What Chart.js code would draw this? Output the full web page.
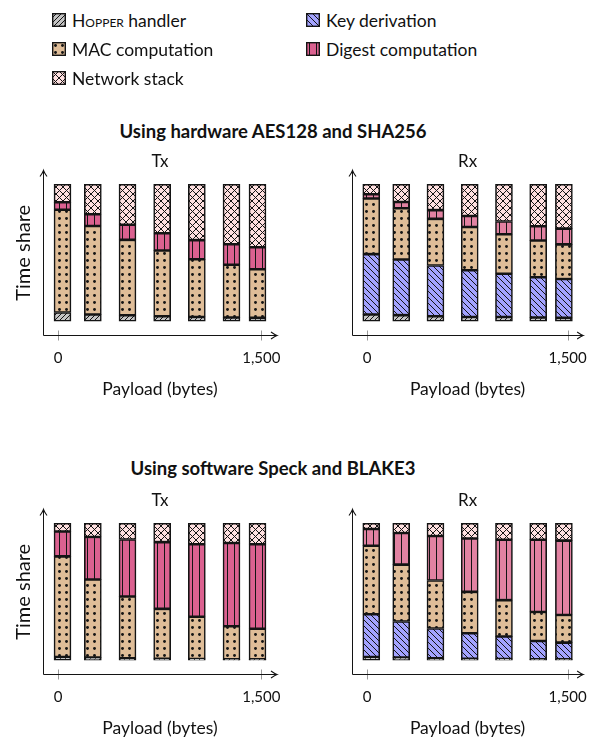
<!DOCTYPE html>
<html>
<head>
<meta charset="utf-8">
<script src="https://cdn.jsdelivr.net/npm/chart.js@4.4.1/dist/chart.umd.min.js"></script>
<style>
body { margin: 0; background: #fff; font-family: Lato, sans-serif; color: #111; }
#page { position: relative; width: 602px; height: 746px; overflow: hidden; }
.leg { position: absolute; height: 18px; display: flex; align-items: center; gap: 6px; font-size: 17.5px; white-space: nowrap; }
.sc { font-variant: small-caps; }
.head { position: absolute; left: 0; width: 546px; text-align: center; font-size: 18.5px; font-weight: bold; line-height: 20px; }
canvas.plot { position: absolute; }
</style>
</head>
<body>
<div id="page">
  <div class="leg" style="left:52px;top:11px"><canvas id="icHopper" width="14" height="14"></canvas><span><span class="sc">Hopper</span> handler</span></div>
  <div class="leg" style="left:52px;top:40px"><canvas id="icMac" width="14" height="14"></canvas><span>MAC computation</span></div>
  <div class="leg" style="left:52px;top:69px"><canvas id="icNet" width="14" height="14"></canvas><span>Network stack</span></div>
  <div class="leg" style="left:306px;top:11px"><canvas id="icKey" width="14" height="14"></canvas><span>Key derivation</span></div>
  <div class="leg" style="left:306px;top:40px"><canvas id="icDigest" width="14" height="14"></canvas><span>Digest computation</span></div>

  <div class="head" style="top:121px">Using hardware AES128 and SHA256</div>
  <div class="head" style="top:458px">Using software Speck and BLAKE3</div>

  <canvas class="plot" id="hwTx" width="300" height="255" style="left:0;top:145px"></canvas>
  <canvas class="plot" id="hwRx" width="302" height="255" style="left:300px;top:145px"></canvas>
  <canvas class="plot" id="swTx" width="300" height="255" style="left:0;top:484px"></canvas>
  <canvas class="plot" id="swRx" width="302" height="255" style="left:300px;top:484px"></canvas>
</div>
<script>
// payload sizes (bytes)
const payloads = [32, 256, 512, 768, 1024, 1280, 1472];

// hardware AES128 / SHA256, Tx (time share, %)
const hwTxHopper  = [6.4, 5, 4.4, 3.7, 3.2, 2.7, 2.5];
const hwTxMac     = [75, 64.5, 55, 48, 42, 38.5, 35.5];
const hwTxDigest  = [5.4, 8.6, 11, 12.5, 14, 15, 16];
const hwTxNetwork = [13.2, 21.9, 29.6, 35.8, 40.8, 43.8, 46];

// hardware AES128 / SHA256, Rx
const hwRxHopper  = [5, 4.5, 3.7, 3.2, 3.2, 2.7, 2.5];
const hwRxKey     = [44, 40.5, 37, 34, 31.5, 29.5, 28.3];
const hwRxMac     = [40.5, 37.5, 34, 31.6, 28.8, 26.7, 25.3];
const hwRxDigest  = [3.2, 4.5, 6.4, 8, 9.3, 10.5, 11.5];
const hwRxNetwork = [7.3, 13, 18.9, 23.2, 27.2, 30.6, 32.4];

// software Speck / BLAKE3, Tx
const swTxHopper  = [2.4, 2, 1.5, 1.2, 1, 0.7, 0.7];
const swTxMac     = [73.4, 57, 45, 36.3, 30.7, 24.2, 22.3];
const swTxDigest  = [18.2, 31, 41.6, 48.7, 53, 60.6, 61.7];
const swTxNetwork = [6, 10, 11.9, 13.8, 15.3, 14.5, 15.3];

// software Speck / BLAKE3, Rx
const swRxHopper  = [2.4, 2, 1.5, 1.2, 1, 0.7, 0.7];
const swRxKey     = [31.2, 26.3, 21.7, 18.5, 16.3, 13.4, 12.2];
const swRxMac     = [50, 41.5, 35, 30.2, 26.6, 21.2, 20.2];
const swRxDigest  = [12.2, 23, 32.4, 39, 44, 52.7, 54.2];
const swRxNetwork = [4.2, 7.2, 9.4, 11.1, 12.1, 12, 12.7];

const xTicks = [0, 1500];

const ink = '#141414';
Chart.defaults.font.family = 'Lato, sans-serif';
Chart.defaults.color = '#111';

// small repeating fills like the pgfplots patterns
function pattern(bg, kind) {
  const s = { ne: 5, nw: 6, dots: 7, cross: 7, vert: 7 }[kind];
  const c = document.createElement('canvas');
  c.width = s; c.height = s;
  const g = c.getContext('2d');
  g.fillStyle = bg;
  g.fillRect(0, 0, s, s);
  g.strokeStyle = ink;
  g.fillStyle = ink;
  g.lineWidth = 1;
  g.beginPath();
  if (kind === 'ne' || kind === 'cross') {
    g.moveTo(-1, s + 1); g.lineTo(s + 1, -1);
    g.moveTo(-1, 1); g.lineTo(1, -1);
    g.moveTo(s - 1, s + 1); g.lineTo(s + 1, s - 1);
  }
  if (kind === 'nw' || kind === 'cross') {
    g.moveTo(-1, -1); g.lineTo(s + 1, s + 1);
    g.moveTo(s - 1, -1); g.lineTo(s + 1, 1);
    g.moveTo(-1, s - 1); g.lineTo(1, s + 1);
  }
  if (kind === 'vert') {
    g.moveTo(3.5, 0); g.lineTo(3.5, s);
  }
  g.stroke();
  if (kind === 'dots') {
    g.beginPath();
    g.arc(3.5, 3.5, 1.45, 0, Math.PI * 2);
    g.fill();
  }
  return g.createPattern(c, 'repeat');
}

const fills = {
  hopper: pattern('#c4c4c4', 'ne'),
  key: pattern('#a3a3ff', 'nw'),
  mac: pattern('#dfbd98', 'dots'),
  digestTx: pattern('#db6190', 'vert'),
  digestRx: pattern('#e282a2', 'vert'),
  network: pattern('#ffe0e0', 'cross')
};

// legend icons
function icon(id, fill) {
  const g = document.getElementById(id).getContext('2d');
  g.fillStyle = fill;
  g.fillRect(0, 0, 14, 14);
  g.strokeStyle = ink;
  g.lineWidth = 1.4;
  g.strokeRect(0.7, 0.7, 12.6, 12.6);
}
icon('icHopper', fills.hopper);
icon('icMac', fills.mac);
icon('icNet', fills.network);
icon('icKey', fills.key);
icon('icDigest', fills.digestTx);

// arrow tips on both axes, and the gray tick marks crossing the x axis
const arrows = {
  id: 'arrows',
  afterDraw(chart) {
    const { ctx, chartArea: a } = chart;
    const xs = chart.scales.x;
    const x0 = Math.round(a.left) + 0.5, y0 = Math.round(a.bottom) + 0.5;
    const xr = a.right, yt = a.top;
    ctx.save();
    ctx.strokeStyle = '#999';
    ctx.lineWidth = 1;
    ctx.beginPath();
    xTicks.forEach(v => {
      const px = Math.round(xs.getPixelForValue(v)) + 0.5;
      ctx.moveTo(px, y0 - 5);
      ctx.lineTo(px, y0 + 5);
    });
    ctx.stroke();
    ctx.strokeStyle = ink;
    ctx.lineWidth = 1;
    ctx.beginPath();
    ctx.moveTo(x0, y0); ctx.lineTo(xr, y0);
    ctx.moveTo(x0, y0); ctx.lineTo(x0, yt);
    ctx.stroke();
    ctx.lineWidth = 1.1;
    ctx.beginPath();
    ctx.moveTo(xr - 6, y0 - 3.5);
    ctx.quadraticCurveTo(xr - 2, y0 - 0.6, xr, y0);
    ctx.quadraticCurveTo(xr - 2, y0 + 0.6, xr - 6, y0 + 3.5);
    ctx.moveTo(x0 - 3.5, yt + 6);
    ctx.quadraticCurveTo(x0 - 0.6, yt + 2, x0, yt);
    ctx.quadraticCurveTo(x0 + 0.6, yt + 2, x0 + 3.5, yt + 6);
    ctx.stroke();
    ctx.restore();
  }
};

function ds(label, values, fill) {
  return {
    label: label,
    data: values.map((v, i) => ({ x: payloads[i], y: v })),
    backgroundColor: fill,
    borderColor: ink,
    borderWidth: 1.6,
    borderSkipped: false,
    barThickness: 17
  };
}

function makeChart(id, title, datasets, left, showYTitle) {
  new Chart(document.getElementById(id), {
    type: 'bar',
    data: { datasets: datasets },
    plugins: [arrows],
    options: {
      responsive: false,
      animation: false,
      layout: { padding: { left: 0, right: left === 43 ? 23 : 17, top: 0, bottom: 0 } },
      plugins: {
        legend: { display: false },
        tooltip: { enabled: false },
        title: {
          display: true,
          text: title,
          fullSize: false,
          font: { size: 17, weight: 'normal', lineHeight: 1 },
          padding: { top: 8.5, bottom: 0 },
          color: '#111'
        }
      },
      scales: {
        x: {
          type: 'linear',
          stacked: true,
          offset: false,
          min: -112,
          max: 1616,
          afterBuildTicks: s => { s.ticks = xTicks.map(v => ({ value: v })); },
          afterFit: s => { s.height = 65; },
          ticks: { font: { size: 15 }, padding: 14, color: '#111' },
          grid: { display: false, drawTicks: false, offset: false },
          border: { display: false },
          title: { display: true, text: 'Payload (bytes)', font: { size: 17.5 }, padding: { top: 0, bottom: 0 }, color: '#111' }
        },
        y: {
          stacked: true,
          min: -10,
          max: 110,
          afterFit: s => { s.width = left; },
          ticks: { display: false },
          grid: { display: false },
          border: { display: false },
          title: { display: showYTitle, text: 'Time share', font: { size: 20 }, padding: { top: 12, bottom: 0 }, color: '#111' }
        }
      }
    }
  });
}

makeChart('hwTx', 'Tx', [
  ds('Hopper handler', hwTxHopper, fills.hopper),
  ds('MAC computation', hwTxMac, fills.mac),
  ds('Digest computation', hwTxDigest, fills.digestTx),
  ds('Network stack', hwTxNetwork, fills.network)
], 43, true);

makeChart('hwRx', 'Rx', [
  ds('Hopper handler', hwRxHopper, fills.hopper),
  ds('Key derivation', hwRxKey, fills.key),
  ds('MAC computation', hwRxMac, fills.mac),
  ds('Digest computation', hwRxDigest, fills.digestRx),
  ds('Network stack', hwRxNetwork, fills.network)
], 52, false);

makeChart('swTx', 'Tx', [
  ds('Hopper handler', swTxHopper, fills.hopper),
  ds('MAC computation', swTxMac, fills.mac),
  ds('Digest computation', swTxDigest, fills.digestTx),
  ds('Network stack', swTxNetwork, fills.network)
], 43, true);

makeChart('swRx', 'Rx', [
  ds('Hopper handler', swRxHopper, fills.hopper),
  ds('Key derivation', swRxKey, fills.key),
  ds('MAC computation', swRxMac, fills.mac),
  ds('Digest computation', swRxDigest, fills.digestRx),
  ds('Network stack', swRxNetwork, fills.network)
], 52, false);
</script>
</body>
</html>
